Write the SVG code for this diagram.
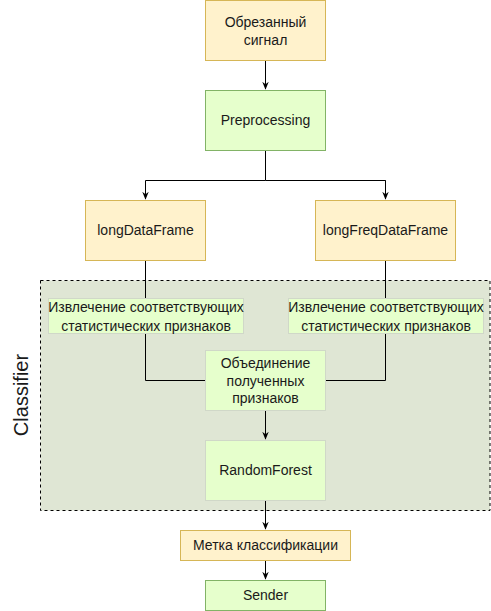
<svg xmlns="http://www.w3.org/2000/svg" width="491" height="611" viewBox="0 0 491 611">
<style>
text{font-family:"Liberation Sans",Arial,sans-serif;font-size:14px;fill:#1a1a1a;text-anchor:middle}
.y{fill:#fff2cc;stroke:#d6b656}
.g{fill:#e6ffcc;stroke:#82b366}
.gl{fill:#e6ffcc;stroke:#d0d8c8}
.c{fill:none;stroke:#000;stroke-width:1}
</style>
<defs>
<marker id="a" viewBox="0 0 10 10" refX="9" refY="5" markerWidth="8" markerHeight="8" markerUnits="userSpaceOnUse" orient="auto">
<path d="M0,1 L10,5 L0,9 L3,5 Z" fill="#000"/>
</marker>
</defs>
<g id="classifier">
<rect x="40.5" y="280.5" width="449.5" height="230" fill="#dfe6d4" stroke="#000" stroke-dasharray="3,3"/>
<text transform="translate(28,395) rotate(-90)" style="font-size:20px">Classifier</text>
</g>
<g id="connectors">
<path class="c" d="M265.5,60.5 V89" marker-end="url(#a)"/>
<path class="c" d="M265.5,150.5 V180.5 H145.5 V199" marker-end="url(#a)"/>
<path class="c" d="M265.5,180.5 H385.5 V199"/>
<path class="c" d="M385.5,180.5 V199" marker-end="url(#a)"/>
<path class="c" d="M145.5,260.5 V298"/>
<path class="c" d="M385.5,260.5 V298"/>
<path class="c" d="M145.5,333 V380.5 H205.5"/>
<path class="c" d="M385.5,333 V380.5 H325.5"/>
<path class="c" d="M265.5,410.5 V439" marker-end="url(#a)"/>
<path class="c" d="M265.5,500.5 V529" marker-end="url(#a)" stroke="#333"/>
<path class="c" d="M265.5,560.5 V579" marker-end="url(#a)"/>
</g>
<g id="n1"><rect class="y" x="205.5" y="0.5" width="120" height="60"/><text x="265.5" y="27">Обрезанный</text><text x="265.5" y="45">сигнал</text></g>
<g id="n2"><rect class="g" x="205.5" y="90.5" width="120" height="60"/><text x="265.5" y="125">Preprocessing</text></g>
<g id="n3"><rect class="y" x="85.5" y="200.5" width="120" height="60"/><text x="145.5" y="235">longDataFrame</text></g>
<g id="n4"><rect class="y" x="315.5" y="200.5" width="140" height="60"/><text x="385.5" y="235">longFreqDataFrame</text></g>
<g id="n5"><rect class="gl" x="48.5" y="298.5" width="195" height="35"/><text x="146" y="312">Извлечение соответствующих</text><text x="146" y="331">статистических признаков</text></g>
<g id="n6"><rect class="gl" x="288.5" y="298.5" width="195" height="35"/><text x="386" y="312">Извлечение соответствующих</text><text x="386" y="331">статистических признаков</text></g>
<g id="n7"><rect class="gl" x="205.5" y="350.5" width="120" height="60"/><text x="265.5" y="368">Объединение</text><text x="265.5" y="386">полученных</text><text x="265.5" y="403">признаков</text></g>
<g id="n8"><rect class="gl" x="205.5" y="440.5" width="120" height="60"/><text x="265.5" y="475">RandomForest</text></g>
<g id="n9"><rect class="y" x="180.5" y="530.5" width="170" height="30"/><text x="265.5" y="550">Метка классификации</text></g>
<g id="n10"><rect class="g" x="205.5" y="580.5" width="120" height="30"/><text x="265.5" y="600">Sender</text></g>
</svg>
